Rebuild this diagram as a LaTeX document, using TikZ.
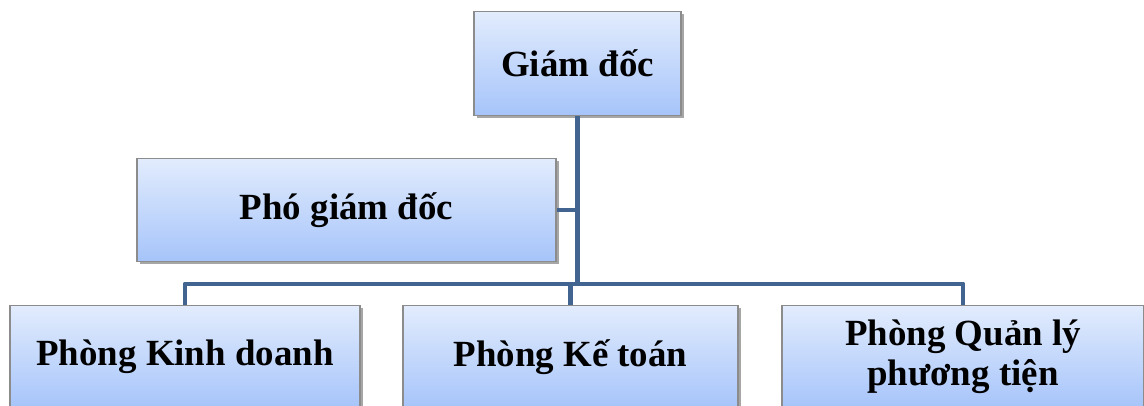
\documentclass[tikz,border=0pt]{standalone}
\usepackage{fontspec}
\setmainfont{Liberation Serif}
\usetikzlibrary{shadows}
\definecolor{XanhNhat}{RGB}{226,236,253}
\definecolor{XanhDam}{RGB}{166,196,250}
\definecolor{XanhDuong}{RGB}{65,100,145}
\definecolor{VienXam}{RGB}{140,140,140}

\begin{document}
\begin{tikzpicture}[
  hop/.style={draw=VienXam,line width=0.6pt,top color=XanhNhat,bottom color=XanhDam,
    minimum height=2.07cm,align=center,font=\fontsize{21}{23}\selectfont\bfseries,
    drop shadow={shadow xshift=1.5pt,shadow yshift=-1.5pt,fill=black,opacity=0.35}},
  noi/.style={draw=XanhDuong,line width=2.8pt,line join=round}]
  \useasboundingbox (0,0) rectangle (22.88,-8.1);
  \clip (0,0) rectangle (22.88,-8.1);

  % cac o
  \node[hop,minimum width=4.14cm] (gd) at (11.55,-1.27) {Giám đốc};
  \node[hop,minimum width=8.38cm] (pgd) at (6.93,-4.2) {Phó giám đốc};
  \node[hop,minimum width=7.0cm] (kd) at (3.7,-7.14) {Phòng Kinh doanh};
  \node[hop,minimum width=6.7cm] (kt) at (11.41,-7.14) {Phòng Kế toán};
  \node[hop,minimum width=7.24cm] (ql) at (19.26,-7.14) {Phòng Quản lý\\phương tiện};

  % duong noi
  \coordinate (bus) at (11.52,-5.68);
  \draw[noi] (gd.south) -- (gd.south |- bus);
  \draw[noi] (pgd.east) -- (pgd.east -| gd.south);
  \draw[noi] (kd.north) |- (bus) -| (ql.north);
  \draw[noi] (kt.north) -- (kt.north |- bus);
\end{tikzpicture}
\end{document}
